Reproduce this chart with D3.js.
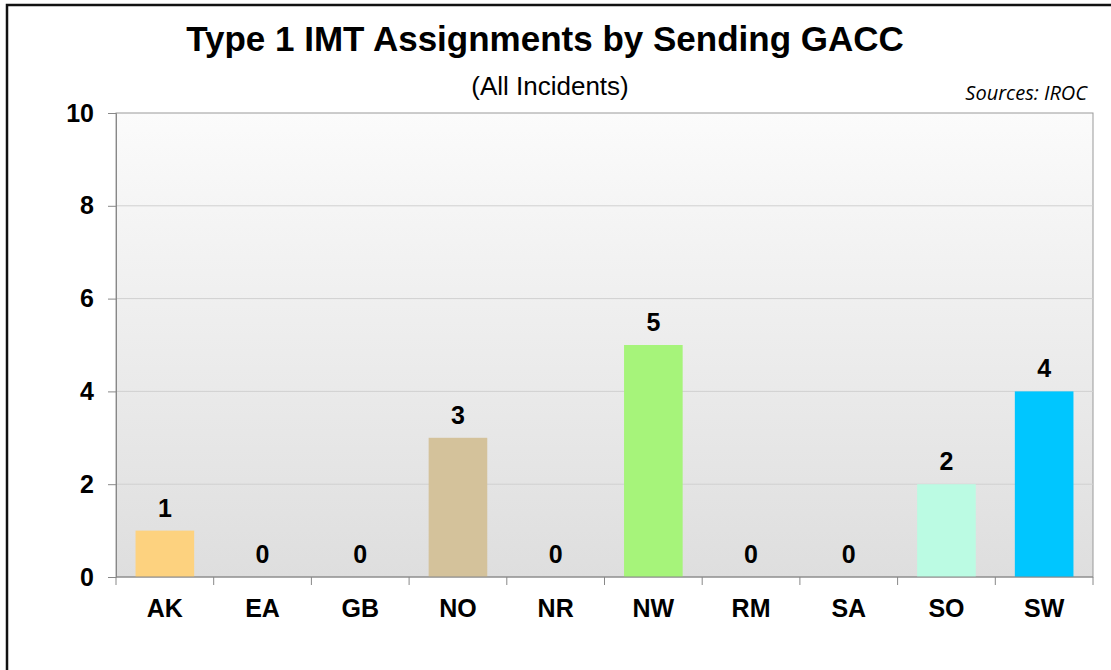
<!DOCTYPE html>
<html>
<head>
<meta charset="utf-8">
<script src="https://cdn.jsdelivr.net/npm/d3@7"></script>
<style>
  body { margin: 0; background: #fff; }
  svg { display: block; }
</style>
</head>
<body>
<script>
// data
const gaccs = ["AK", "EA", "GB", "NO", "NR", "NW", "RM", "SA", "SO", "SW"];
const assignments = [1, 0, 0, 3, 0, 5, 0, 0, 2, 4];
const barColors = ["#fdd27f", "#cccccc", "#cccccc", "#d4c29b", "#cccccc",
                   "#a6f47a", "#cccccc", "#cccccc", "#bbfbe3", "#00c6ff"];
const yTicks = [0, 2, 4, 6, 8, 10];

const width = 1111, height = 670;
const margin = {top: 113, right: 18, bottom: 93, left: 116};
const innerW = width - margin.left - margin.right;
const innerH = height - margin.top - margin.bottom;

const svg = d3.select("body").append("svg")
  .attr("width", width)
  .attr("height", height);

// outer frame (only top and left edges show in the picture)
svg.append("path")
  .attr("d", `M7,${height} L7,5 L${width},5`)
  .attr("fill", "none")
  .attr("stroke", "#111")
  .attr("stroke-width", 2.5);

let defs = svg.append("defs");
let grad = defs.append("linearGradient")
  .attr("id", "bg")
  .attr("x1", 0).attr("y1", 0).attr("x2", 0).attr("y2", 1);
grad.append("stop").attr("offset", "0%").attr("stop-color", "#fbfbfb");
grad.append("stop").attr("offset", "100%").attr("stop-color", "#dedede");

const g = svg.append("g")
  .attr("transform", `translate(${margin.left},${margin.top})`);

const x = d3.scaleBand()
  .domain(gaccs)
  .range([0, innerW])
  .paddingInner(0.4)
  .paddingOuter(0.2);

const y = d3.scaleLinear()
  .domain([0, 10])
  .range([innerH, 0]);

g.append("rect")
  .attr("width", innerW)
  .attr("height", innerH)
  .attr("fill", "url(#bg)")
  .attr("stroke", "#999")
  .attr("stroke-width", 1);

// gridlines
g.selectAll("line.grid")
  .data(yTicks.filter(d => d > 0 && d < 10))
  .enter()
  .append("line")
  .classed("grid", true)
  .attr("x1", 0)
  .attr("x2", innerW)
  .attr("y1", d => y(d))
  .attr("y2", d => y(d))
  .style("stroke", "#d0d0d0")
  .style("stroke-width", "1px");

// bars
let data = gaccs.map((name, i) => ({name: name, value: assignments[i], color: barColors[i]}));

g.selectAll("rect.bar")
  .data(data)
  .enter()
  .append("rect")
  .classed("bar", true)
  .attr("x", d => x(d.name))
  .attr("width", x.bandwidth())
  .attr("y", d => y(d.value))
  .attr("height", d => innerH - y(d.value))
  .attr("fill", d => d.color);

// value labels
g.selectAll("text.value")
  .data(data)
  .enter()
  .append("text")
  .classed("value", true)
  .attr("x", d => x(d.name) + x.bandwidth() / 2)
  .attr("y", d => y(d.value) - 14)
  .attr("text-anchor", "middle")
  .style("font-family", "'Liberation Sans', Arial, sans-serif")
  .style("font-weight", "bold")
  .style("font-size", "25px")
  .text(d => d.value);

// y axis
let yAxis = g.append("g")
  .call(d3.axisLeft(y).tickValues(yTicks).tickSize(8).tickPadding(14));
yAxis.select(".domain").attr("stroke", "#888");
yAxis.selectAll(".tick line").attr("stroke", "#888");
yAxis.selectAll(".tick text")
  .style("font-family", "'Liberation Sans', Arial, sans-serif")
  .style("font-weight", "bold")
  .style("font-size", "25px")
  .attr("fill", "#000");

// x axis: ticks sit on category boundaries
let xAxisG = g.append("g")
  .attr("transform", `translate(0,${innerH})`);
xAxisG.append("line")
  .attr("x1", 0).attr("x2", innerW)
  .attr("stroke", "#888");
let step = x.step();
xAxisG.selectAll("line.xtick")
  .data(d3.range(gaccs.length + 1))
  .enter()
  .append("line")
  .classed("xtick", true)
  .attr("x1", i => i * step)
  .attr("x2", i => i * step)
  .attr("y1", 0)
  .attr("y2", 8)
  .attr("stroke", "#888");
xAxisG.selectAll("text.cat")
  .data(gaccs)
  .enter()
  .append("text")
  .classed("cat", true)
  .attr("x", d => x(d) + x.bandwidth() / 2)
  .attr("y", 40)
  .attr("text-anchor", "middle")
  .style("font-family", "'Liberation Sans', Arial, sans-serif")
  .style("font-weight", "bold")
  .style("font-size", "25px")
  .text(d => d);

// titles
svg.append("text")
  .attr("x", 545)
  .attr("y", 51)
  .attr("text-anchor", "middle")
  .style("font-family", "'Liberation Sans', Arial, sans-serif")
  .style("font-weight", "bold")
  .style("font-size", "35px")
  .text("Type 1 IMT Assignments by Sending GACC");

svg.append("text")
  .attr("x", 550)
  .attr("y", 95)
  .attr("text-anchor", "middle")
  .style("font-family", "'Liberation Sans', Arial, sans-serif")
  .style("font-size", "26px")
  .text("(All Incidents)");

svg.append("text")
  .attr("x", 1087)
  .attr("y", 100)
  .attr("text-anchor", "end")
  .style("font-family", "'Open Sans', sans-serif")
  .style("font-style", "italic")
  .style("font-size", "20px")
  .text("Sources: IROC");
</script>
</body>
</html>
